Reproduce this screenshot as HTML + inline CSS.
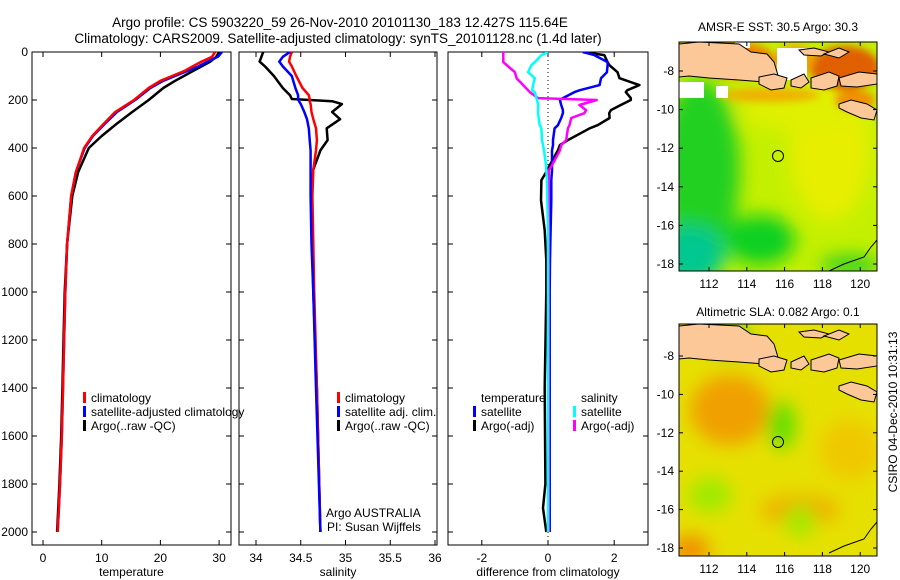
<!DOCTYPE html>
<html><head><meta charset="utf-8"><style>
body{margin:0;background:#fff;width:900px;height:580px;overflow:hidden}
svg{display:block}
text{font-family:"Liberation Sans",sans-serif;fill:#000}
</style></head><body>
<svg id="fig" width="900" height="580" xmlns="http://www.w3.org/2000/svg">
<defs>
<filter id="bl" x="-20%" y="-20%" width="140%" height="140%"><feGaussianBlur stdDeviation="9"/></filter>
<filter id="bl2" x="-20%" y="-20%" width="140%" height="140%"><feGaussianBlur stdDeviation="4"/></filter>
<clipPath id="c1"><rect x="679" y="42" width="198" height="229"/></clipPath>
<clipPath id="c2"><rect x="679" y="324" width="198" height="232"/></clipPath>
<clipPath id="p1"><rect x="32" y="52" width="199" height="493"/></clipPath>
<clipPath id="p2"><rect x="239" y="52" width="198" height="493"/></clipPath>
<clipPath id="p3"><rect x="448" y="52" width="200" height="493"/></clipPath>
</defs>
<text x="340" y="27" font-size="13.5" text-anchor="middle">Argo profile: CS 5903220_59 26-Nov-2010 20101130_183 12.427S 115.64E</text>
<text x="338" y="43" font-size="13.5" text-anchor="middle">Climatology: CARS2009. Satellite-adjusted climatology: synTS_20101128.nc (1.4d later)</text>

<!-- top map -->
<g clip-path="url(#c1)">
<rect x="679" y="42" width="198" height="229" fill="#c4f000"/>
<g filter="url(#bl)">
<ellipse cx="700" cy="170" rx="40" ry="90" fill="#22d020"/>
<ellipse cx="690" cy="255" rx="35" ry="30" fill="#00c890"/>
<ellipse cx="760" cy="240" rx="35" ry="25" fill="#10d020"/>
<ellipse cx="830" cy="150" rx="40" ry="70" fill="#e8ee00"/>
<ellipse cx="800" cy="110" rx="60" ry="20" fill="#e0f000"/>
<ellipse cx="850" cy="265" rx="30" ry="10" fill="#30d020"/>
</g>
<g filter="url(#bl2)">
<ellipse cx="845" cy="68" rx="35" ry="22" fill="#e06000"/>
<ellipse cx="855" cy="100" rx="20" ry="10" fill="#f09000"/>
<ellipse cx="735" cy="60" rx="40" ry="18" fill="#f08000"/>
<ellipse cx="795" cy="60" rx="20" ry="15" fill="#f0a000"/>
<ellipse cx="770" cy="95" rx="50" ry="7" fill="#f0b000"/>
</g>
<rect x="679" y="82" width="25" height="16" fill="#fff"/><rect x="716" y="86" width="12" height="12" fill="#fff"/>
<rect x="777" y="48" width="30" height="32" fill="#fff"/><rect x="735" y="42" width="15" height="6" fill="#fff"/>
</g>
<!-- bottom map -->
<g clip-path="url(#c2)">
<rect x="679" y="324" width="198" height="232" fill="#e6e000"/>
<g filter="url(#bl)">
<ellipse cx="730" cy="410" rx="40" ry="35" fill="#f0a000"/>
<ellipse cx="800" cy="510" rx="40" ry="15" fill="#f0b000"/>
<ellipse cx="690" cy="550" rx="20" ry="15" fill="#f09000"/>
<ellipse cx="850" cy="450" rx="30" ry="30" fill="#f0c800"/>
<ellipse cx="782" cy="425" rx="14" ry="24" fill="#60e000"/>
<ellipse cx="710" cy="495" rx="22" ry="18" fill="#a0ea00"/>
<ellipse cx="800" cy="521" rx="16" ry="16" fill="#a0ea00"/>
<ellipse cx="730" cy="340" rx="18" ry="15" fill="#30c040"/>
</g>
</g>
<g id="lands"></g>
<rect x="679" y="42" width="198" height="229" fill="none" stroke="#000"/>
<rect x="679" y="324" width="198" height="232" fill="none" stroke="#000"/>
<circle cx="778" cy="156" r="5.5" fill="none" stroke="#000"/>
<circle cx="778" cy="442" r="5.5" fill="none" stroke="#000"/>
<text x="778" y="31" font-size="12" text-anchor="middle">AMSR-E SST: 30.5 Argo: 30.3</text>
<text x="778" y="316" font-size="12" text-anchor="middle">Altimetric SLA: 0.082 Argo: 0.1</text>
<text transform="translate(897,412) rotate(-90)" font-size="12" text-anchor="middle">CSIRO 04-Dec-2010 10:31:13</text>
<g id="plots"></g>
</svg>
<script>
// ---- data ----
const depth = [0,20,40,60,80,100,120,150,200,250,300,350,400,500,600,800,1000,1200,1400,1600,1800,2000];
const tempClim = [29.3,28.8,27,25.5,24,22,20,18,15.5,12.3,10.3,8.4,7.0,5.6,4.8,4.1,3.8,3.6,3.4,3.2,2.9,2.5];
const tempSat  = [30.5,29.8,28,26.5,24.5,22.5,20.5,18.3,15.7,12.6,10.5,8.5,7.1,5.6,4.8,4.1,3.8,3.6,3.4,3.2,2.9,2.5];
const tempArgo = [30,29.5,28.5,27,25.5,24,22.5,20.5,18,15.2,12.5,10,7.8,6,5.0,4.1,3.7,3.5,3.3,3.1,2.8,2.4];
const salDepth = [0,20,40,60,100,150,180,196,205,217,250,280,318,367,410,490,600,800,1000,1400,2000];
const salClim = [34.40,34.38,34.37,34.40,34.45,34.52,34.59,34.60,34.60,34.61,34.62,34.64,34.67,34.68,34.67,34.64,34.63,34.64,34.65,34.68,34.72];
const salSat  = [34.38,34.30,34.26,34.30,34.40,34.44,34.47,34.47,34.48,34.50,34.54,34.57,34.59,34.60,34.61,34.61,34.61,34.62,34.64,34.67,34.72];
const salArgo = [34.08,34.06,34.04,34.10,34.20,34.30,34.38,34.40,34.85,34.96,34.85,34.94,34.79,34.80,34.72,34.64,34.62,34.63,34.64,34.68,34.72];
const diffDepth = [0,13,42,54,84,109,138,159,167,192,200,221,242,255,275,305,318,367,388,410,472,493,534,618,743,868,1000,1400,1800,1900,2000];
const dTempSat  = [1.05,1.4,1.8,1.8,1.78,1.6,1.56,0.96,0.8,0.45,0.36,0.4,0.45,0.45,0.4,0.3,0.2,0.15,0.15,0.12,0.12,0.12,0.1,0.1,0.08,0.06,0.05,0.05,0.05,0.05,0.05];
const dTempArgo = [1.05,1.7,1.8,1.85,2.1,2.16,2.76,2.4,2.35,2.5,2.5,2.2,1.9,1.85,1.86,1.5,1.26,0.6,0.36,0.3,0.05,-0.02,-0.2,-0.21,-0.1,-0.05,-0.05,-0.1,-0.08,-0.15,-0.05];
const dSalSat   = [0,-0.2,-0.4,-0.5,-0.6,-0.4,-0.45,-0.48,-0.4,-0.35,-0.33,-0.3,-0.3,-0.3,-0.28,-0.25,-0.2,-0.18,-0.15,-0.12,-0.06,-0.05,-0.03,-0.02,0,0,0,0,0,0,0];
const dSalArgo  = [-1.35,-1.35,-1.35,-1.25,-1.0,-0.95,-0.75,-0.6,-0.55,-0.3,1.47,0.95,1.15,1.1,0.7,0.65,0.6,0.55,0.4,0.36,0.12,0.02,0.02,0.02,0.02,0.02,0.02,0.02,0.02,0.02,0.02];
const tempTicks = [0,10,20,30];
const salTicks = [34,34.5,35,35.5,36];
const diffTicks = [-2,0,2];
const depthTicks = [0,200,400,600,800,1000,1200,1400,1600,1800,2000];
const lonTicks = [112,114,116,118,120];
const latTicks = [-8,-10,-12,-14,-16,-18];

// ---- axes ----
const NS='http://www.w3.org/2000/svg';
const plots=document.getElementById('plots');
const Y=d=>52+d*0.24;
const xT=t=>43+t*5.87;
const xS=s=>256+(s-34)*89.5;
const xD=v=>548+v*33.1;
function el(tag,attrs,parent){const e=document.createElementNS(NS,tag);for(const k in attrs)e.setAttribute(k,attrs[k]);(parent||plots).appendChild(e);return e;}
function txt(x,y,s,anchor,size,parent){const t=el('text',{x:x,y:y,'font-size':size||12,'text-anchor':anchor||'start'},parent);t.textContent=s;return t;}
function line(xs,ds,fx,color,clip,name,w){
  let p='';for(let i=0;i<xs.length;i++){p+=(i?'L':'M')+fx(xs[i]).toFixed(1)+','+Y(ds[i]).toFixed(1);}
  const e=el('path',{d:p,fill:'none',stroke:color,'stroke-width':w||2.5,'stroke-linejoin':'round','clip-path':'url(#'+clip+')'});
  
  
}
function frame(x0,x1,fx,ticks,fmt,xlabel,showDepth,name){
  const r=el('rect',{x:x0,y:52,width:x1-x0,height:493,fill:'none',stroke:'#000'});
  
  
  ticks.forEach(t=>{const x=fx(t);
    el('line',{x1:x,x2:x,y1:545,y2:540,stroke:'#000'});el('line',{x1:x,x2:x,y1:52,y2:57,stroke:'#000'});
    const l=txt(x,562,fmt(t),'middle');
    
    });
  depthTicks.forEach(d=>{el('line',{x1:x0,x2:x0+5,y1:Y(d),y2:Y(d),stroke:'#000'});el('line',{x1:x1,x2:x1-5,y1:Y(d),y2:Y(d),stroke:'#000'});
    if(showDepth){const l=txt(28,Y(d)+4,String(d),'end');
      
      }});
  const xl=txt((x0+x1)/2,576,xlabel,'middle');
  
  
}
frame(32,231,xT,tempTicks,String,'temperature',true,'temperature-panel');
frame(239,437,xS,salTicks,t=>String(t),'salinity',false,'salinity-panel');
frame(448,648,xD,diffTicks,t=>t<0?'-'+Math.abs(t):String(t),'difference from climatology',false,'difference-panel');
const zl=el('line',{x1:548,x2:548,y1:52,y2:545,stroke:'#000','stroke-dasharray':'1,3'});



line(tempArgo,depth,xT,'#000','p1','temp-argo-line');
line(tempSat,depth,xT,'#0000ff','p1','temp-satellite-line');
line(tempClim,depth,xT,'#ff0000','p1','temp-climatology-line');
line(salArgo,salDepth,xS,'#000','p2','sal-argo-line');
line(salClim,salDepth,xS,'#ff0000','p2','sal-climatology-line');
line(salSat,salDepth,xS,'#0000ff','p2','sal-satellite-line');
line(dTempArgo,diffDepth,xD,'#000','p3','diff-temp-argo-line');
line(dTempSat,diffDepth,xD,'#0000ff','p3','diff-temp-satellite-line');
line(dSalArgo,diffDepth,xD,'#ff00ff','p3','diff-sal-argo-line');
line(dSalSat,diffDepth,xD,'#00ffff','p3','diff-sal-satellite-line');

function legend(x,y,color,label,name){
  const r=el('rect',{x:x,y:y-10,width:3,height:11,fill:color});
  
  
  const t=txt(x+8,y,label);
  
  
}
legend(83,402,'#ff0000','climatology','legend-temp-climatology');
legend(83,416,'#0000ff','satellite-adjusted climatology','legend-temp-satellite');
legend(83,430,'#000','Argo(..raw -QC)','legend-temp-argo');
legend(337,402,'#ff0000','climatology','legend-sal-climatology');
legend(337,416,'#0000ff','satellite adj. clim.','legend-sal-satellite');
legend(337,430,'#000','Argo(..raw -QC)','legend-sal-argo');
let t1=txt(481,402,'temperature');
let t2=txt(581,402,'salinity');
legend(473,416,'#0000ff','satellite','legend-diff-temp-satellite');
legend(473,430,'#000','Argo(-adj)','legend-diff-temp-argo');
legend(573,416,'#00ffff','satellite','legend-diff-sal-satellite');
legend(573,430,'#ff00ff','Argo(-adj)','legend-diff-sal-argo');
let a1=txt(326,517,'Argo AUSTRALIA');
let a2=txt(327,531,'PI: Susan Wijffels');

// ---- maps ----
const lands=document.getElementById('lands');
const landShapes=[
 'M0,2 L20,0 L60,2 L72,10 L88,12 L95,20 L98,30 L100,37 L85,40 L60,38 L30,36 L10,34 L0,35 Z',
 'M80,35 L95,32 L108,36 L105,46 L92,48 L80,42 Z',
 'M112,38 L125,32 L130,40 L122,46 L112,44 Z',
 'M132,36 L150,30 L160,34 L158,44 L145,48 L132,46 Z',
 'M160,36 L180,30 L198,32 L198,42 L178,45 L162,44 Z',
 'M160,62 L172,58 L188,62 L198,68 L195,78 L182,76 L168,70 L160,66 Z',
 'M120,8 L135,6 L150,10 L142,14 L125,13 Z',
 'M145,12 L160,6 L170,10 L160,16 Z'
];
[[679,42,'sst'],[679,324,'sla']].forEach(([ox,oy,nm])=>{
  const g=el('g',{transform:'translate('+ox+','+oy+')'},lands);
  
  
  landShapes.forEach(d=>el('path',{d:d,fill:'#fdc898',stroke:'#000','stroke-width':1},g));
  el('path',{d:'M150,229 L165,222 L185,215 L192,205 L198,198',fill:'none',stroke:'#000','stroke-width':1},g);
});
function mapAxes(y0,y1,latY,name){
  lonTicks.forEach(l=>{const x=709+(l-112)*18.9;
    el('line',{x1:x,x2:x,y1:y1,y2:y1-4,stroke:'#000'});el('line',{x1:x,x2:x,y1:y0,y2:y0+4,stroke:'#000'});
    const t=txt(x,y1+17,String(l),'middle');
    
    });
  latTicks.forEach(l=>{const y=latY(l);
    el('line',{x1:679,x2:683,y1:y,y2:y,stroke:'#000'});el('line',{x1:877,x2:873,y1:y,y2:y,stroke:'#000'});
    const t=txt(674,y+4,String(l),'end');
    
    });
}
mapAxes(42,271,l=>71+(-8-l)*19.3,'sst-map');
mapAxes(324,556,l=>356+(-8-l)*19.2,'sla-map');
</script>
</body></html>
